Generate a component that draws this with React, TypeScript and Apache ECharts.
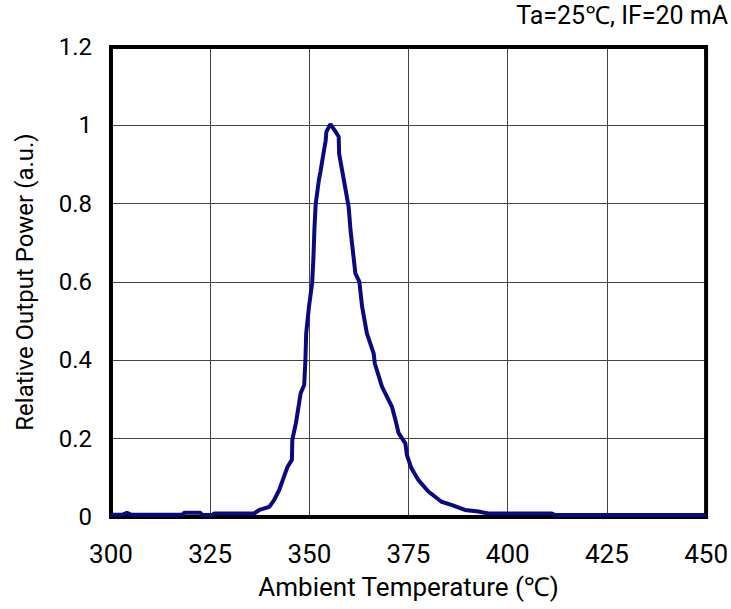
import React, { useEffect, useRef } from "react";
import * as echarts from "echarts";

const temperatures = [
  300, 303, 304, 305, 318, 318.5, 322.5, 323, 325.5, 326, 336, 337.4, 339.9, 341.1, 342.4, 343.6,
  344.5, 345.6, 345.7, 346.6, 347.4, 347.8, 348.7, 349.0, 349.2, 349.9, 350.7, 351.0, 351.3,
  351.6, 352.4, 352.8, 353.7, 354.1, 354.3, 355.3, 356.6, 357.4, 357.5, 358.7, 359.9, 360.4,
  361.6, 362.6, 363.3, 364.5, 366.2, 366.5, 368.3, 370.8, 371.7, 372.5, 374.2, 374.6, 375.7,
  377.5, 380, 383.3, 385.8, 389.2, 392.6, 395, 411, 412, 450,
];
const relativePower = [
  0.006, 0.006, 0.011, 0.006, 0.006, 0.011, 0.011, 0.005, 0.005, 0.009, 0.009, 0.018, 0.026,
  0.043, 0.069, 0.103, 0.128, 0.146, 0.197, 0.239, 0.29, 0.316, 0.337, 0.4, 0.469, 0.537, 0.597,
  0.656, 0.741, 0.8, 0.86, 0.882, 0.937, 0.96, 0.984, 1.003, 0.984, 0.971, 0.928, 0.86, 0.792,
  0.73, 0.622, 0.601, 0.537, 0.469, 0.418, 0.392, 0.333, 0.282, 0.248, 0.214, 0.188, 0.158,
  0.125, 0.094, 0.065, 0.039, 0.031, 0.018, 0.014, 0.009, 0.009, 0.005, 0.005,
];
const xTicks = [300, 325, 350, 375, 400, 425, 450];
const yTicks = [0, 0.2, 0.4, 0.6, 0.8, 1, 1.2];
const titleText = "Ta=25℃, IF=20 mA";
const xName = "Ambient Temperature (℃)";
const yName = "Relative Output Power (a.u.)";

const font = "Roboto, 'Noto Sans', sans-serif";

export default function App() {
  const ref = useRef<HTMLDivElement>(null);
  useEffect(() => {
    if (!ref.current) return;
    const chart = echarts.init(ref.current, null, { renderer: "svg" });
    const data = temperatures.map((t, i) => [t, relativePower[i]]);
    chart.setOption({
      animation: false,
      backgroundColor: "#ffffff",
      grid: {
        left: 111,
        right: 22,
        top: 47,
        bottom: 92,
        show: true,
        borderColor: "#000000",
        borderWidth: 4,
        z: 3,
      },
      graphic: [
        {
          type: "text",
          right: 3,
          top: 3,
          style: {
            text: titleText,
            font: `25px ${font}`,
            fill: "#000000",
          },
        },
      ],
      xAxis: {
        type: "value",
        min: xTicks[0],
        max: xTicks[xTicks.length - 1],
        interval: 25,
        name: xName,
        nameLocation: "middle",
        nameGap: 57,
        nameTextStyle: { fontFamily: font, fontSize: 26, color: "#000" },
        axisLine: { show: false },
        axisTick: { show: false },
        axisLabel: { fontFamily: font, fontSize: 26, color: "#000", margin: 24 },
        splitLine: { show: true, lineStyle: { color: "#444", width: 1 } },
      },
      yAxis: {
        type: "value",
        min: yTicks[0],
        max: yTicks[yTicks.length - 1],
        interval: 0.2,
        name: yName,
        nameLocation: "middle",
        nameGap: 74,
        nameTextStyle: { fontFamily: font, fontSize: 24, color: "#000" },
        axisLine: { show: false },
        axisTick: { show: false },
        axisLabel: {
          fontFamily: font,
          fontSize: 24,
          color: "#000",
          margin: 19,
          formatter: (v: number) => String(Math.round(v * 10) / 10),
        },
        splitLine: { show: true, lineStyle: { color: "#444", width: 1 } },
      },
      series: [
        {
          type: "line",
          data,
          showSymbol: false,
          symbol: "none",
          lineStyle: { color: "#0a0a80", width: 4 },
          z: 4,
        },
      ],
    });
    return () => chart.dispose();
  }, []);
  return <div ref={ref} style={{ width: 731, height: 609, position: "absolute", left: 0, top: 0 }} />;
}
